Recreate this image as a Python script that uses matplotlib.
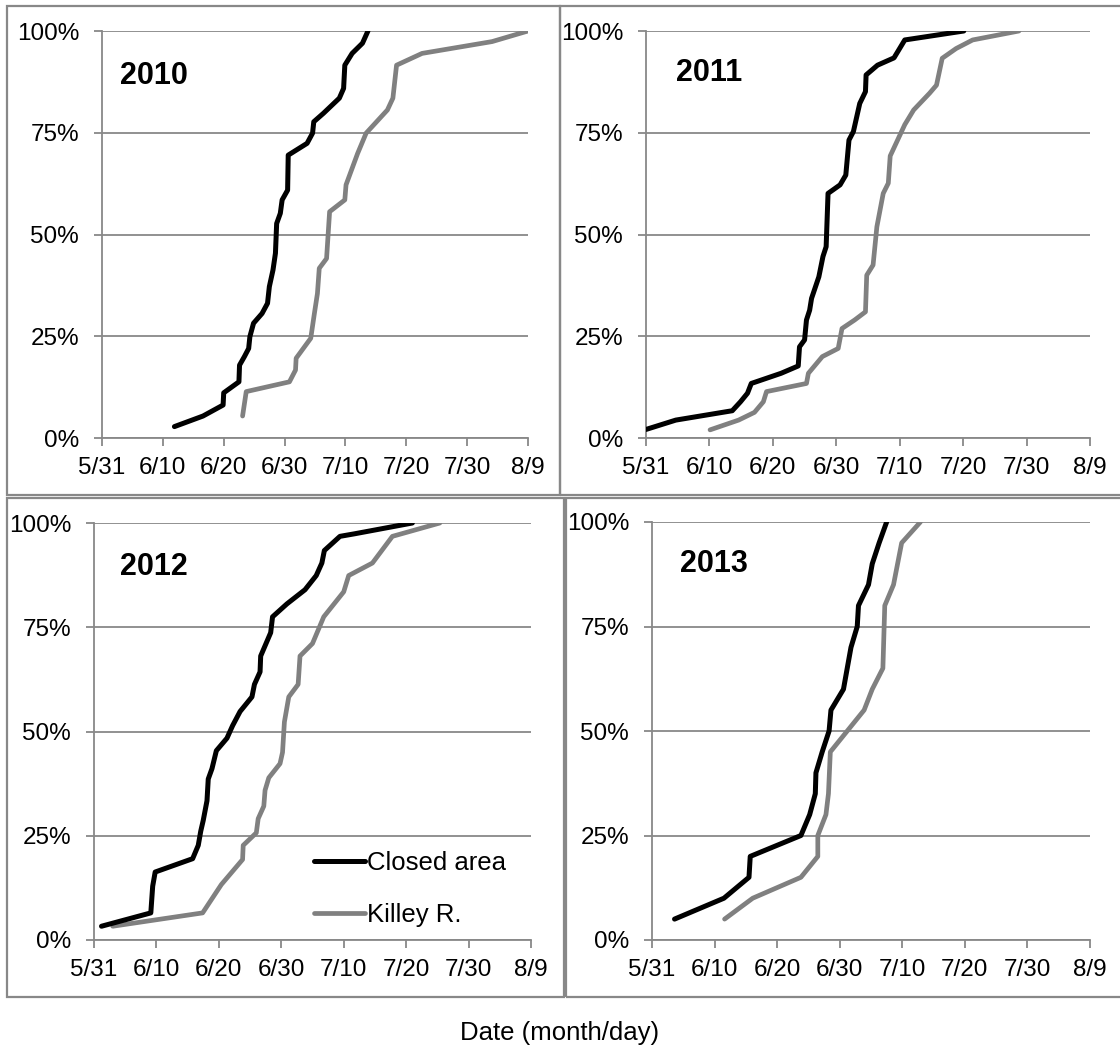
import matplotlib.pyplot as plt
from matplotlib.patches import Rectangle
from matplotlib.ticker import FixedLocator, PercentFormatter

plt.rcParams['font.family'] = ['Liberation Sans', 'DejaVu Sans']

# days after 5/31 and cumulative percent of arrivals
closed_2010_day = [11.9, 16.6, 19.9, 20.0, 22.5, 22.6, 23.4, 24.1, 24.3, 24.9, 26.3, 27.2, 27.5, 28.1,
                   28.5, 28.7, 29.3, 29.6, 30.5, 30.6, 33.7, 34.6, 34.8, 36.4, 39.0, 39.7, 39.9, 41.1,
                   42.8, 43.7]
closed_2010_pct = [2.8, 5.4, 8.1, 11.1, 13.8, 17.9, 20.0, 22.0, 24.9, 28.2, 30.6, 33.1, 37.2, 41.3,
                   45.4, 52.7, 55.2, 58.5, 60.9, 69.5, 72.4, 74.9, 77.7, 79.8, 83.5, 85.9, 91.6, 94.5,
                   97.0, 100]
killey_2010_day = [23.1, 23.7, 30.8, 31.8, 31.9, 34.3, 34.9, 35.4, 35.7, 36.9, 37.4, 39.9, 40.1, 42.0,
                   43.4, 46.9, 47.8, 48.4, 52.6, 64.1, 70.0]
killey_2010_pct = [5.4, 11.4, 13.8, 16.7, 19.6, 24.5, 30.6, 35.5, 41.7, 44.1, 55.6, 58.5, 62.2, 69.9,
                   74.9, 80.6, 83.5, 91.6, 94.5, 97.4, 100]

closed_2011_day = [0.0, 4.7, 13.6, 14.9, 16.0, 16.6, 21.3, 24.0, 24.2, 25.0, 25.3, 25.8, 26.1, 27.25,
                   27.9, 28.4, 28.7, 30.6, 31.5, 32.0, 32.7, 33.7, 34.6, 34.7, 36.5, 39.1, 40.8, 50.1]
closed_2011_pct = [2.1, 4.4, 6.7, 8.9, 11.0, 13.4, 15.9, 17.7, 22.4, 24.1, 29.0, 31.4, 34.3, 39.6,
                   44.6, 47.0, 60.1, 62.2, 64.6, 73.2, 75.3, 82.2, 85.1, 89.2, 91.6, 93.4, 97.8, 100]
killey_2011_day = [10.1, 14.6, 17.1, 18.5, 19.0, 25.3, 25.6, 27.8, 30.3, 30.9, 32.9, 34.6, 34.8, 35.8,
                   36.4, 37.4, 38.2, 38.5, 40.8, 42.2, 44.7, 45.8, 46.7, 48.9, 51.5, 58.8]
killey_2011_pct = [2.0, 4.4, 6.3, 8.9, 11.4, 13.4, 15.9, 20.0, 22.0, 26.9, 29.0, 31.0, 40.0, 42.5,
                   51.9, 60.1, 62.6, 69.3, 77.0, 80.6, 84.7, 86.7, 93.3, 95.7, 97.8, 100]

closed_2012_day = [1.2, 9.1, 9.4, 9.8, 15.8, 16.7, 17.1, 17.5, 18.1, 18.3, 18.9, 19.6, 21.3, 22.2,
                   23.4, 25.3, 25.7, 26.6, 26.7, 28.3, 28.6, 30.9, 33.8, 35.6, 36.5, 36.9, 39.4, 41.7,
                   51.0]
closed_2012_pct = [3.3, 6.5, 12.9, 16.3, 19.5, 22.7, 26.1, 28.7, 33.4, 38.6, 41.1, 45.4, 48.4, 51.4,
                   54.8, 58.3, 61.3, 64.3, 68.1, 73.7, 77.5, 80.6, 84.0, 87.4, 90.4, 93.4, 96.8, 97.4,
                   100]
killey_2012_day = [3.0, 17.4, 20.4, 23.8, 23.9, 26.0, 26.3, 27.2, 27.4, 28.0, 29.8, 30.2, 30.5, 31.2,
                   32.7, 33.0, 35.0, 36.8, 40.0, 40.8, 44.6, 47.8, 55.4]
killey_2012_pct = [3.3, 6.5, 13.3, 19.3, 22.7, 25.7, 29.1, 32.1, 35.9, 38.9, 42.3, 45.0, 52.3, 58.3,
                   61.3, 68.1, 71.1, 77.5, 83.5, 87.4, 90.4, 96.8, 100]

closed_2013_day = [3.6, 11.5, 15.5, 15.7, 23.8, 25.2, 26.1, 26.2, 27.2, 28.3, 28.6, 30.6, 31.2, 31.8,
                   32.8, 33.0, 34.6, 35.2, 36.3, 37.5]
closed_2013_pct = [5, 10, 15, 20, 25, 30, 35, 40, 45, 50, 55, 60, 65, 70, 75, 80, 85, 90, 95, 100]
killey_2013_day = [11.6, 16.1, 23.8, 26.5, 26.5, 27.8, 28.2, 28.5, 31.2, 33.9, 35.2, 36.9, 37.2,
                   38.6, 39.9, 42.9]
killey_2013_pct = [5, 10, 15, 20, 25, 30, 35, 45, 50, 55, 60, 65, 80, 85, 95, 100]

years = ['2010', '2011', '2012', '2013']
closed_days = [closed_2010_day, closed_2011_day, closed_2012_day, closed_2013_day]
closed_pcts = [closed_2010_pct, closed_2011_pct, closed_2012_pct, closed_2013_pct]
killey_days = [killey_2010_day, killey_2011_day, killey_2012_day, killey_2013_day]
killey_pcts = [killey_2010_pct, killey_2011_pct, killey_2012_pct, killey_2013_pct]

tick_days = [0, 10, 20, 30, 40, 50, 60, 70]
tick_labels = ['5/31', '6/10', '6/20', '6/30', '7/10', '7/20', '7/30', '8/9']

W, H = 1120, 1055
fig = plt.figure(figsize=(W / 100, H / 100), dpi=100)


def px_rect(x0, y0, x1, y1):
    # pixel box (top-left origin) -> figure fraction [left, bottom, width, height]
    return [x0 / W, 1 - y1 / H, (x1 - x0) / W, (y1 - y0) / H]


axes_px = [(102, 31, 528, 438), (646, 31, 1090, 438),
           (94, 523, 531, 940), (652, 522, 1090, 940)]
boxes_px = [(7, 6, 560, 495), (560, 6, 1125, 495),
            (7, 498, 564, 997), (566, 498, 1125, 997)]
label_pos = [(0.042, 0.89), (0.068, 0.898), (0.06, 0.894), (0.065, 0.90)]

grey = '#888888'
for box in boxes_px:
    fig.patches.append(Rectangle((box[0] / W, 1 - box[3] / H), (box[2] - box[0]) / W,
                                 (box[3] - box[1]) / H, transform=fig.transFigure,
                                 fill=False, edgecolor=grey, linewidth=1.6))

for i in range(4):
    ax = fig.add_axes(px_rect(*axes_px[i]))
    ax.plot(closed_days[i], closed_pcts[i], color='black', lw=3.6,
            solid_capstyle='round', solid_joinstyle='round', label='Closed area', zorder=3)
    ax.plot(killey_days[i], killey_pcts[i], color='#808080', lw=3.4,
            solid_capstyle='round', solid_joinstyle='round', label='Killey R.', zorder=2)
    ax.set_xlim(0, 70)
    ax.set_ylim(0, 100)
    ax.xaxis.set_major_locator(FixedLocator(tick_days))
    ax.set_xticklabels(tick_labels)
    ax.set_yticks([0, 25, 50, 75, 100])
    ax.yaxis.set_major_formatter(PercentFormatter(decimals=0))
    ax.grid(axis='y', color=grey, lw=1.3)
    ax.set_axisbelow(True)
    for s in ['top', 'right']:
        ax.spines[s].set_visible(False)
    for s in ['left', 'bottom']:
        ax.spines[s].set_color(grey)
        ax.spines[s].set_linewidth(1.3)
    ax.tick_params(axis='both', colors=grey, labelcolor='black', labelsize=17.5,
                   length=5.5, width=1.3)
    ax.tick_params(axis='x', pad=8)
    ax.tick_params(axis='y', pad=11)
    ax.text(label_pos[i][0], label_pos[i][1], years[i], transform=ax.transAxes,
            fontsize=22, fontweight='bold', va='center', ha='left')
    if i == 2:
        ax.legend(loc='lower right', bbox_to_anchor=(0.995, -0.025), frameon=False,
                  fontsize=18.5, handlelength=2.0, handletextpad=0.05, labelspacing=1.1)

fig.text(0.5, 1 - 1033 / H, 'Date (month/day)', ha='center', va='center', fontsize=18.5)

fig.savefig('out.png', dpi=100)
